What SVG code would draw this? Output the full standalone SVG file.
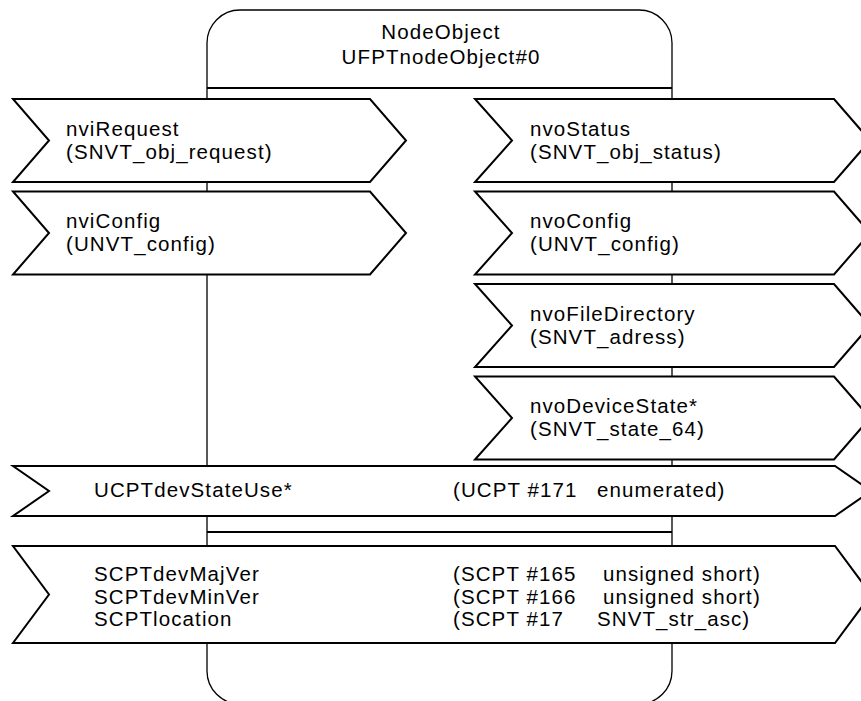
<svg xmlns="http://www.w3.org/2000/svg" width="861" height="701" viewBox="0 0 861 701">
<style>
  .body { fill: #fff; stroke: #000; stroke-width: 1.3; }
  .div { stroke: #000; stroke-width: 2; fill: none; }
  .chev { fill: #fff; stroke: #000; stroke-width: 2; stroke-linejoin: miter; }
  text { font-family: "Liberation Sans", Arial, sans-serif; font-size: 20.5px; letter-spacing: 1.1px; fill: #000; }
  .c { text-anchor: middle; }
</style>
<rect width="861" height="701" fill="#fff"/>
<g id="node-object">
  <rect class="body" x="207" y="10" width="465" height="694" rx="33" ry="33"/>
  <line class="div" x1="207" y1="88" x2="672" y2="88"/>
  <line class="div" x1="207" y1="532" x2="672" y2="532"/>
  <text class="c" x="441" y="39">NodeObject</text>
  <text class="c" x="441" y="64">UFPTnodeObject#0</text>
</g>
<g id="nviRequest">
  <path class="chev" d="M13,99 L370,99 L406,140.5 L370,182 L13,182 L49,140.5 Z"/>
  <text x="66" y="135.5">nviRequest</text>
  <text x="66" y="158.5">(SNVT_obj_request)</text>
</g>
<g id="nviConfig">
  <path class="chev" d="M13,191.5 L370,191.5 L406,233 L370,274.5 L13,274.5 L49,233 Z"/>
  <text x="66" y="228">nviConfig</text>
  <text x="66" y="251">(UNVT_config)</text>
</g>
<g id="nvoStatus">
  <path class="chev" d="M475,99 L834,99 L870,140.5 L834,182 L475,182 L512,140.5 Z"/>
  <text x="530" y="135.5">nvoStatus</text>
  <text x="530" y="158.5">(SNVT_obj_status)</text>
</g>
<g id="nvoConfig">
  <path class="chev" d="M475,191.5 L834,191.5 L870,233 L834,274.5 L475,274.5 L512,233 Z"/>
  <text x="530" y="228">nvoConfig</text>
  <text x="530" y="251">(UNVT_config)</text>
</g>
<g id="nvoFileDirectory">
  <path class="chev" d="M475,284 L834,284 L870,325.5 L834,367 L475,367 L512,325.5 Z"/>
  <text x="530" y="320.5">nvoFileDirectory</text>
  <text x="530" y="343.5">(SNVT_adress)</text>
</g>
<g id="nvoDeviceState">
  <path class="chev" d="M475,376.5 L834,376.5 L870,418 L834,459.5 L475,459.5 L512,418 Z"/>
  <text x="530" y="413">nvoDeviceState*</text>
  <text x="530" y="436">(SNVT_state_64)</text>
</g>
<g id="UCPTdevStateUse">
  <path class="chev" d="M13,466 L835,466 L871,491 L835,516 L13,516 L49,491 Z"/>
  <text x="94" y="497">UCPTdevStateUse*</text>
  <text x="453" y="497">(UCPT #171</text>
  <text x="597" y="497">enumerated)</text>
</g>
<g id="SCPT-properties">
  <path class="chev" d="M13,546 L835,546 L871,594.5 L835,643 L13,643 L49,594.5 Z"/>
  <text x="94" y="581">SCPTdevMajVer</text>
  <text x="94" y="603.5">SCPTdevMinVer</text>
  <text x="94" y="626">SCPTlocation</text>
  <text x="453" y="581">(SCPT #165</text>
  <text x="453" y="603.5">(SCPT #166</text>
  <text x="453" y="626">(SCPT #17</text>
  <text x="603" y="581">unsigned short)</text>
  <text x="603" y="603.5">unsigned short)</text>
  <text x="597" y="626">SNVT_str_asc)</text>
</g>
<g id="connectors"></g>
</svg>
